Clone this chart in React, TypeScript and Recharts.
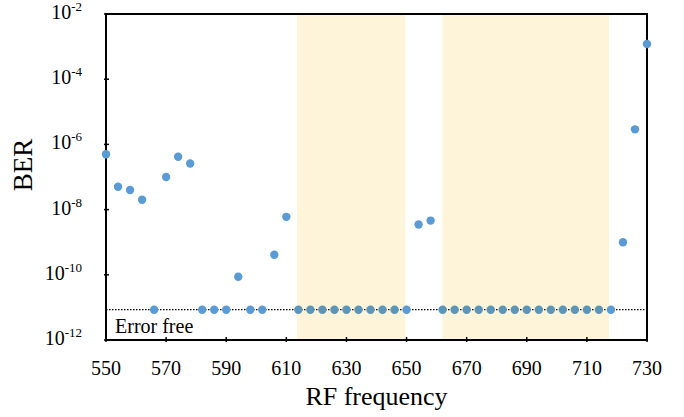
import {
  ReferenceArea,
  ReferenceLine,
  Scatter,
  ScatterChart,
  XAxis,
  YAxis,
} from "recharts";

const ERROR_FREE = 8.5e-12;

const freqs = [
  550, 554, 558, 562, 566, 570, 574, 578, 582, 586, 590, 594, 598, 602, 606,
  610, 614, 618, 622, 626, 630, 634, 638, 642, 646, 650, 654, 658, 662, 666,
  670, 674, 678, 682, 686, 690, 694, 698, 702, 706, 710, 714, 718, 722, 726,
  730,
];

const EF = ERROR_FREE;
const ber = [
  5.0e-7, 5.0e-8, 4.0e-8, 2.0e-8, EF, 1.0e-7, 4.2e-7, 2.6e-7, EF, EF, EF,
  8.7e-11, EF, EF, 4.1e-10, 6.0e-9, EF, EF, EF, EF, EF, EF, EF, EF, EF, EF,
  3.5e-9, 4.6e-9, EF, EF, EF, EF, EF, EF, EF, EF, EF, EF, EF, EF, EF, EF, EF,
  1.0e-9, 2.9e-6, 1.2e-3,
];

const xTicks = [550, 570, 590, 610, 630, 650, 670, 690, 710, 730];
const yTicks = [1e-12, 1e-10, 1e-8, 1e-6, 1e-4, 1e-2];
const yExponents = ["-12", "-10", "-8", "-6", "-4", "-2"];

// shaded bands (error-free ranges)
const bands: [number, number][] = [
  [613.6, 649.6],
  [661.9, 717.4],
];

const data = freqs.map((f, i) => ({ freq: f, ber: ber[i] }));

const FONT = "Liberation Serif";
const BLUE = "#5B9BD5";
const BLUE_SHADED = "#5B95B8";
const SHADE = "#FEF4DA";
const INK = "black";

const inBand = (f: number) => bands.some(([a, b]) => f >= a && f <= b);

const bottomTick = (props: any) => {
  const { x, y, payload } = props;
  return (
    <g>
      <line x1={x} y1={y} x2={x} y2={y - 5} stroke="black" strokeWidth={1.5} />
      <text x={x} y={y + 33} textAnchor="middle" fontFamily={FONT} fontSize={20} fill={INK}>
        {payload.value}
      </text>
    </g>
  );
};

const topTick = (props: any) => {
  const { x, y } = props;
  return <line x1={x} y1={y} x2={x} y2={y + 5} stroke="black" strokeWidth={1.5} />;
};

const leftTick = (props: any) => {
  const { x, y, payload } = props;
  const idx = yTicks.indexOf(payload.value);
  return (
    <g>
      <line x1={x} y1={y} x2={x + 5} y2={y} stroke="black" strokeWidth={1.5} />
      <text x={x - 22} y={y + 5} textAnchor="end" fontFamily={FONT} fontSize={20} fill={INK}>
        <tspan>10</tspan>
        <tspan dy={-8} fontSize={13}>
          {yExponents[idx]}
        </tspan>
      </text>
    </g>
  );
};

const dot = (props: any) => {
  const { cx, cy, payload } = props;
  return <circle cx={cx} cy={cy} r={4.2} fill={inBand(payload.freq) ? BLUE_SHADED : BLUE} />;
};

export default function App() {
  return (
    <div style={{ position: "absolute", left: 0, top: 0, width: 684, height: 417 }}>
      <ScatterChart width={684} height={417} margin={{ top: 13, right: 36, bottom: 0, left: 0 }}>
        <XAxis
          dataKey="freq"
          type="number"
          domain={[550, 730]}
          ticks={xTicks}
          height={77}
          tickSize={0}
          tick={bottomTick}
          axisLine={{ stroke: "black", strokeWidth: 2 }}
        />
        <XAxis
          xAxisId="top"
          orientation="top"
          dataKey="freq"
          type="number"
          domain={[550, 730]}
          ticks={xTicks}
          height={1}
          tickSize={0}
          tick={topTick}
          axisLine={{ stroke: "black", strokeWidth: 2 }}
        />
        <YAxis
          dataKey="ber"
          type="number"
          scale="log"
          domain={[1e-12, 1e-2]}
          ticks={yTicks}
          width={106}
          tickSize={0}
          tick={leftTick}
          axisLine={{ stroke: "black", strokeWidth: 2 }}
          label={{
            value: "BER",
            angle: -90,
            position: "insideLeft",
            offset: 0,
            dx: 22,
            dy: -12,
            fontFamily: FONT,
            fontSize: 27,
            fill: INK,
            style: { textAnchor: "middle" },
          }}
        />
        <YAxis
          yAxisId="r"
          orientation="right"
          dataKey="ber"
          type="number"
          scale="log"
          domain={[1e-12, 1e-2]}
          ticks={yTicks}
          width={1}
          tick={false}
          tickLine={false}
          axisLine={{ stroke: "black", strokeWidth: 2 }}
        />
        {bands.map(([a, b]) => (
          <ReferenceArea key={a} x1={a} x2={b} fill={SHADE} fillOpacity={1} stroke="none" />
        ))}
        <Scatter data={data} shape={dot} isAnimationActive={false} />
        <ReferenceLine
          y={ERROR_FREE}
          stroke="black"
          strokeWidth={1.3}
          strokeDasharray="1.5 1.5"
          label={(p: any) => (
            <text x={p.viewBox.x + 9} y={p.viewBox.y + 23} fontFamily={FONT} fontSize={20} fill={INK}>
              Error free
            </text>
          )}
        />
        <ReferenceArea
          x1={550}
          x2={730}
          y1={1e-12}
          y2={1e-2}
          fill="none"
          stroke="black"
          strokeWidth={2}
          ifOverflow="visible"
        />
        <text x={376.5} y={405} textAnchor="middle" fontFamily={FONT} fontSize={26} fill={INK}>
          RF frequency
        </text>
      </ScatterChart>
    </div>
  );
}
